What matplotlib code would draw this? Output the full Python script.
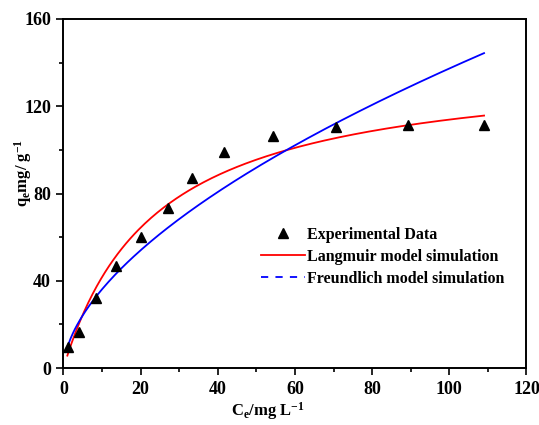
import numpy as np
import matplotlib.pyplot as plt
from matplotlib.lines import Line2D
from matplotlib.ticker import MultipleLocator

# experimental isotherm points
ce = [1.1, 4.0, 8.3, 13.7, 20.2, 27.2, 33.4, 41.5, 54.4, 70.5, 89.4, 109.1]
qe = [9.6, 16.5, 32.0, 46.8, 60.0, 73.4, 87.1, 99.0, 106.4, 110.5, 111.4, 111.4]

# fitted model parameters
langmuir_qm = 141.0
langmuir_k = 0.042
freundlich_kf = 9.5
freundlich_inv_n = 0.58

plt.rcParams['font.family'] = ['Liberation Serif', 'DejaVu Serif']
plt.rcParams['font.weight'] = 'bold'
plt.rcParams['mathtext.fontset'] = 'custom'
plt.rcParams['mathtext.rm'] = 'Liberation Serif:bold'
plt.rcParams['mathtext.it'] = 'Liberation Serif:bold'
plt.rcParams['mathtext.bf'] = 'Liberation Serif:bold'

fig = plt.figure(figsize=(5.39, 4.25), dpi=100)
ax = fig.add_axes([0.1178, 0.1341, 0.859, 0.8212])

c_l = np.linspace(1.0, 109.0, 200)
q_l = langmuir_qm * langmuir_k * c_l / (1 + langmuir_k * c_l)
c_f = np.linspace(0.8, 109.0, 200)
q_f = freundlich_kf * c_f ** freundlich_inv_n

ax.plot(c_l, q_l, color='red', lw=1.3)
ax.plot(c_f, q_f, color='blue', lw=1.3)
ax.plot(ce, qe, '^', color='black', ms=7, ls='none')

ax.set_xlim(0, 120)
ax.set_ylim(0, 160)
ax.xaxis.set_major_locator(MultipleLocator(20))
ax.xaxis.set_minor_locator(MultipleLocator(10))
ax.yaxis.set_major_locator(MultipleLocator(40))
ax.yaxis.set_minor_locator(MultipleLocator(20))
ax.tick_params(which='both', direction='out', top=False, right=False, width=1.2, labelsize=13)
ax.tick_params(which='major', length=5, pad=4)
ax.tick_params(which='minor', length=3)
for s in ax.spines.values():
    s.set_linewidth(1.4)

ax.set_xlabel(r'C$_e$/mg L$^{-1}$', fontsize=12, fontweight='bold')
ax.set_ylabel(r'q$_e$mg/ g$^{-1}$', fontsize=12, fontweight='bold')
ax.xaxis.set_label_coords(0.442, -0.092)
ax.yaxis.set_label_coords(-0.064, 0.56)

handles = [
    Line2D([], [], marker='^', color='black', ls='none', ms=7),
    Line2D([], [], color='red', lw=1.3),
    Line2D([], [], color='blue', lw=1.3, ls=(0, (4, 4))),
]
labels = ['Experimental Data', 'Langmuir model simulation', 'Freundlich model simulation']
ax.legend(handles, labels, loc='upper left', bbox_to_anchor=(0.395, 0.445), frameon=False,
          fontsize=11.5, handlelength=2.8, handletextpad=0.1, labelspacing=0.36)

fig.savefig('out.png', dpi=100)
